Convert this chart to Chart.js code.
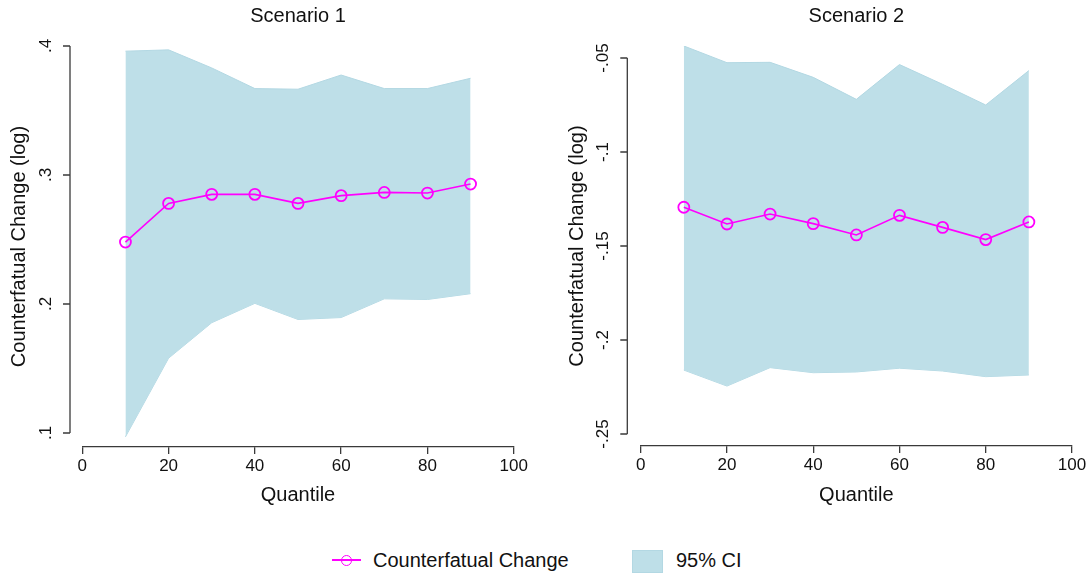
<!DOCTYPE html>
<html>
<head>
<meta charset="utf-8">
<script src="https://cdn.jsdelivr.net/npm/chart.js@4/dist/chart.umd.min.js"></script>
<style>
  body { margin: 0; width: 1092px; height: 573px; overflow: hidden; background: #fff; font-family: "Liberation Sans", Arial, sans-serif; }
  canvas { position: absolute; top: 0; }
  #c1 { left: 0; }
  #c2 { left: 546px; }
  .lg { position: absolute; font-size: 20px; line-height: 24px; color: #111; white-space: nowrap; }
</style>
</head>
<body>
<canvas id="c1" width="546" height="520"></canvas>
<canvas id="c2" width="546" height="520"></canvas>

<div style="position:absolute;left:332px;top:559px;width:29px;height:2px;background:#ff00ff"></div>
<div style="position:absolute;left:341px;top:555px;width:11px;height:11px;border:1.8px solid #ff00ff;border-radius:50%;box-sizing:border-box"></div>
<div class="lg" style="left:373px;top:548px">Counterfatual Change</div>
<div style="position:absolute;left:632px;top:550px;width:31px;height:23px;background:#bedfe8;border:1px solid #b3d8e3;box-sizing:border-box"></div>
<div class="lg" style="left:676px;top:548px">95% CI</div>

<script>
var quantiles = [10, 20, 30, 40, 50, 60, 70, 80, 90];
var xTicks = [0, 20, 40, 60, 80, 100];

// Scenario 1
var est1 = [0.248, 0.278, 0.285, 0.285, 0.278, 0.284, 0.2865, 0.286, 0.293];
var upper1 = [0.396, 0.397, 0.383, 0.367, 0.3665, 0.3775, 0.367, 0.367, 0.375];
var lower1 = [0.097, 0.158, 0.1855, 0.2005, 0.188, 0.1895, 0.204, 0.2035, 0.208];
var yTicks1 = [0.1, 0.2, 0.3, 0.4];
var yLabels1 = ['.1', '.2', '.3', '.4'];

// Scenario 2
var est2 = [-0.1294, -0.1383, -0.133, -0.1381, -0.1441, -0.1337, -0.1401, -0.1466, -0.1372];
var upper2 = [-0.0436, -0.0525, -0.0523, -0.0603, -0.072, -0.0535, -0.064, -0.075, -0.0567];
var lower2 = [-0.216, -0.2245, -0.2147, -0.2174, -0.217, -0.215, -0.2165, -0.2195, -0.2186];
var yTicks2 = [-0.25, -0.2, -0.15, -0.1, -0.05];
var yLabels2 = ['-.25', '-.2', '-.15', '-.1', '-.05'];

var FONT = '"Liberation Sans", Arial, sans-serif';
var axisColor = '#3a3a3a';
var bandColor = '#bedfe8';
var lineColor = '#ff00ff';

Chart.defaults.font.family = FONT;
Chart.defaults.color = '#111';

// Stata-style y axis: line only over the tick range, set off from the plot, labels turned
var stataYAxis = {
    id: 'stataYAxis',
    afterDraw: function (chart, args, opts) {
        var ctx = chart.ctx;
        var y = chart.scales.y;
        var ax = chart.chartArea.left - opts.gap;
        var top = y.getPixelForValue(opts.values[opts.values.length - 1]);
        var bottom = y.getPixelForValue(opts.values[0]);
        ctx.save();
        ctx.strokeStyle = axisColor;
        ctx.lineWidth = 1.3;
        ctx.beginPath();
        ctx.moveTo(ax, top);
        ctx.lineTo(ax, bottom);
        opts.values.forEach(function (v) {
            var p = y.getPixelForValue(v);
            ctx.moveTo(ax - 7, p);
            ctx.lineTo(ax, p);
        });
        ctx.stroke();
        ctx.fillStyle = '#111';
        ctx.font = '17px ' + FONT;
        ctx.textAlign = 'center';
        ctx.textBaseline = 'middle';
        opts.values.forEach(function (v, i) {
            var p = y.getPixelForValue(v);
            ctx.save();
            ctx.translate(ax - 23.5, p);
            ctx.rotate(-Math.PI / 2);
            ctx.fillText(opts.labels[i], 0, 0);
            ctx.restore();
        });
        ctx.restore();
    }
};

function makeChart(id, title, est, upper, lower, yMin, yMax, yTicks, yLabels, yWidth, yTitlePad, padRight, plotBottom, gap) {
    var ctx = document.getElementById(id).getContext('2d');
    return new Chart(ctx, {
        type: 'line',
        data: {
            labels: quantiles,
            datasets: [{
                label: 'Counterfatual Change',
                data: est,
                borderColor: lineColor,
                borderWidth: 1.6,
                pointRadius: 5.5,
                pointBorderWidth: 1.8,
                pointBorderColor: lineColor,
                pointBackgroundColor: 'rgba(0,0,0,0)',
                fill: false,
                tension: 0,
                order: 0
            }, {
                label: '95% CI',
                data: upper,
                borderColor: '#b3d8e3',
                borderWidth: 1,
                backgroundColor: bandColor,
                pointRadius: 0,
                fill: '+1',
                tension: 0,
                order: 1
            }, {
                label: 'lower',
                data: lower,
                borderColor: '#b3d8e3',
                borderWidth: 1,
                pointRadius: 0,
                fill: false,
                tension: 0,
                order: 2
            }]
        },
        options: {
            responsive: false,
            animation: false,
            devicePixelRatio: 1,
            parsing: { xAxisKey: undefined },
            layout: { padding: { left: 0, right: padRight, top: 0, bottom: 0 } },
            plugins: {
                legend: { display: false },
                tooltip: { enabled: false },
                title: {
                    display: true,
                    text: title,
                    fullSize: false,
                    color: '#111',
                    font: { size: 20, weight: 'normal' },
                    padding: { top: 4, bottom: 18 }
                },
                stataYAxis: { values: yTicks, labels: yLabels, gap: gap }
            },
            scales: {
                x: {
                    type: 'linear',
                    min: 0,
                    max: 100,
                    afterBuildTicks: function (s) { s.ticks = xTicks.map(function (v) { return { value: v }; }); },
                    afterFit: function (s) { s.height = 520 - plotBottom; },
                    border: { display: true, color: axisColor, width: 1.3 },
                    grid: { display: true, drawOnChartArea: false, tickLength: 7, color: axisColor, lineWidth: 1.3 },
                    ticks: { color: '#111', font: { size: 17 }, padding: 2, maxRotation: 0 },
                    title: { display: true, text: 'Quantile', color: '#111', font: { size: 20 }, padding: { top: 0, bottom: 13 } }
                },
                y: {
                    min: yMin,
                    max: yMax,
                    afterFit: function (s) { s.width = yWidth; },
                    border: { display: false },
                    grid: { display: false },
                    ticks: { display: false },
                    title: { display: true, text: 'Counterfatual Change (log)', color: '#111', font: { size: 20 }, padding: { top: yTitlePad, bottom: 0 } }
                }
            }
        },
        plugins: [stataYAxis]
    });
}

// x data: pair quantiles with values through the linear x scale
function pts(vals) { return vals.map(function (v, i) { return { x: quantiles[i], y: v }; }); }
est1 = pts(est1); upper1 = pts(upper1); lower1 = pts(lower1);
est2 = pts(est2); upper2 = pts(upper2); lower2 = pts(lower2);

makeChart('c1', 'Scenario 1', est1, upper1, lower1, 0.08915, 0.4, yTicks1, yLabels1, 82.3, 7, 32.3, 447, 12.3);
makeChart('c2', 'Scenario 2', est2, upper2, lower2, -0.25638, -0.04362, yTicks2, yLabels2, 94.7, 19.5, 20, 446, 13.4);
</script>
</body>
</html>
